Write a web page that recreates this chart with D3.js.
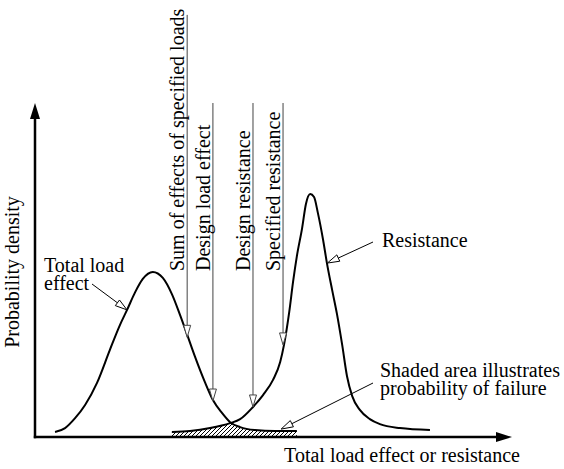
<!DOCTYPE html>
<html>
<head>
<meta charset="utf-8">
<script src="https://cdn.jsdelivr.net/npm/d3@7"></script>
<style>
  body { margin: 0; background: #fff; }
  svg { display: block; }
</style>
</head>
<body>
<div id="chart"></div>
<script>
// --- values (x: effect/resistance units 0-10, y: density) ---
const loadX = [0.42, 0.63, 0.84, 1.05, 1.30, 1.57, 1.78, 1.93, 2.10, 2.26, 2.47, 2.68, 2.87, 3.04, 3.19, 3.35, 3.56, 3.73, 3.92, 4.09, 4.30, 4.61, 5.03, 5.49];
const loadY = [0.003, 0.015, 0.045, 0.085, 0.152, 0.252, 0.327, 0.373, 0.427, 0.467, 0.488, 0.470, 0.421, 0.358, 0.298, 0.233, 0.155, 0.100, 0.061, 0.033, 0.018, 0.009, 0.006, 0.006];

const resX = [2.87, 3.25, 3.67, 4.09, 4.30, 4.57, 4.78, 4.99, 5.14, 5.22, 5.33, 5.41, 5.49, 5.60, 5.68, 5.77, 5.85, 5.93, 6.04, 6.12, 6.23, 6.33, 6.44, 6.54, 6.65, 6.81, 7.02, 7.23, 7.65, 8.28];
const resY = [0.003, 0.006, 0.015, 0.030, 0.042, 0.079, 0.115, 0.161, 0.215, 0.267, 0.367, 0.458, 0.536, 0.621, 0.694, 0.724, 0.715, 0.667, 0.585, 0.515, 0.433, 0.361, 0.267, 0.173, 0.112, 0.070, 0.042, 0.027, 0.015, 0.009];

const markLabels = ['Sum of effects of specified loads', 'Design load effect', 'Design resistance', 'Specified resistance'];
const markX = [3.19, 3.73, 4.57, 5.20];
const markTip = [0.29, 0.097, 0.079, 0.267];
const markTop = [1.267, 1, 1, 1];

const W = 564, H = 469;
const yMin = -0.012;
const FONT = '"Liberation Serif", "Times New Roman", Times, serif';

const svg = d3.select('#chart').append('svg')
  .attr('width', W).attr('height', H)
  .attr('viewBox', `0 0 ${W} ${H}`)
  .attr('font-family', FONT)
  .attr('font-size', 20)
  .style('font-family', FONT);

const x = d3.scaleLinear().domain([0, 10]).range([35, 512]);
const y = d3.scaleLinear().domain([yMin, 1]).range([437, 103]);

const loadData = d3.zip(loadX, loadY);
const resData = d3.zip(resX, resY);

const line = d3.line().x(d => x(d[0])).y(d => y(d[1])).curve(d3.curveMonotoneX);
const area = d3.area().x(d => x(d[0])).y0(y(yMin)).y1(d => y(d[1])).curve(d3.curveMonotoneX);

// open triangular arrowhead at (x2,y2)
function arrow(g, x1, y1, x2, y2, color, L = 12, hw = 3.5) {
  const len = Math.hypot(x2 - x1, y2 - y1);
  const ux = (x2 - x1) / len, uy = (y2 - y1) / len;
  const bx = x2 - ux * L, by = y2 - uy * L;
  g.append('line')
    .attr('x1', x1).attr('y1', y1).attr('x2', bx).attr('y2', by)
    .attr('stroke', color).attr('stroke-width', 1);
  g.append('path')
    .attr('d', `M${x2},${y2}L${bx + uy * hw},${by - ux * hw}L${bx - uy * hw},${by + ux * hw}Z`)
    .attr('fill', '#fff').attr('stroke', color).attr('stroke-width', 1);
}

// multi-line label as one text element
function label(g, lx, ly, lines, lead = 18) {
  const t = g.append('text').attr('x', lx).attr('y', ly);
  lines.forEach((s, i) => t.append('tspan').attr('x', lx).attr('dy', i ? lead : 0).text(s));
  return t;
}

// hatch pattern + clip for failure region
const defs = svg.append('defs');
defs.append('pattern')
  .attr('id', 'hatch').attr('patternUnits', 'userSpaceOnUse')
  .attr('width', 4).attr('height', 4)
  .append('path')
  .attr('d', 'M-1,1l2,-2M0,4l4,-4M3,5l2,-2')
  .attr('stroke', '#000').attr('stroke-width', 1);
defs.append('clipPath').attr('id', 'res-clip')
  .append('path').attr('d', area(resData));

svg.append('path')
  .attr('d', area(loadData))
  .attr('fill', 'url(#hatch)')
  .attr('clip-path', 'url(#res-clip)');

// axes with filled arrowheads
const [ax0, ax1] = x.range();
const [ay0, ay1] = y.range();
const axes = svg.append('g');
axes.append('line')
  .attr('x1', ax0 - 1.2).attr('y1', ay0).attr('x2', ax1 - 12).attr('y2', ay0)
  .attr('stroke', '#000').attr('stroke-width', 2.5);
axes.append('path')
  .attr('d', `M${ax1},${ay0}L${ax1 - 16},${ay0 - 5}L${ax1 - 16},${ay0 + 5}Z`)
  .attr('fill', '#000');
axes.append('line')
  .attr('x1', ax0).attr('y1', ay0 + 1.2).attr('x2', ax0).attr('y2', ay1 + 12)
  .attr('stroke', '#000').attr('stroke-width', 2.5);
axes.append('path')
  .attr('d', `M${ax0},${ay1}L${ax0 - 5},${ay1 + 16}L${ax0 + 5},${ay1 + 16}Z`)
  .attr('fill', '#000');

// distribution curves
svg.append('path').attr('d', line(loadData))
  .attr('fill', 'none').attr('stroke', '#000').attr('stroke-width', 2);
svg.append('path').attr('d', line(resData))
  .attr('fill', 'none').attr('stroke', '#000').attr('stroke-width', 2);

// vertical marker arrows with rotated labels
const marks = svg.append('g');
markLabels.forEach((text, i) => {
  const mx = x(markX[i]);
  arrow(marks, mx, y(markTop[i]), mx, y(markTip[i]), '#444');
  marks.append('text')
    .attr('transform', `translate(${mx - 3},271) rotate(-90)`)
    .text(text);
});

// axis titles
svg.append('text')
  .attr('transform', 'translate(19,272) rotate(-90)')
  .attr('text-anchor', 'middle')
  .text('Probability density');
svg.append('text')
  .attr('x', 520).attr('y', 462).attr('text-anchor', 'end')
  .text('Total load effect or resistance');

// callouts
const notes = svg.append('g');
label(notes, 44, 272, ['Total load', 'effect']);
arrow(notes, 92, 284, x(1.93), y(0.373), '#000');

notes.append('text').attr('x', 382).attr('y', 247).text('Resistance');
arrow(notes, 373, 242, x(6.13), y(0.515), '#000');

label(notes, 380, 377, ['Shaded area illustrates', 'probability of failure']);
arrow(notes, 373, 383, x(5.16), y(0.012), '#000');
</script>
</body>
</html>
